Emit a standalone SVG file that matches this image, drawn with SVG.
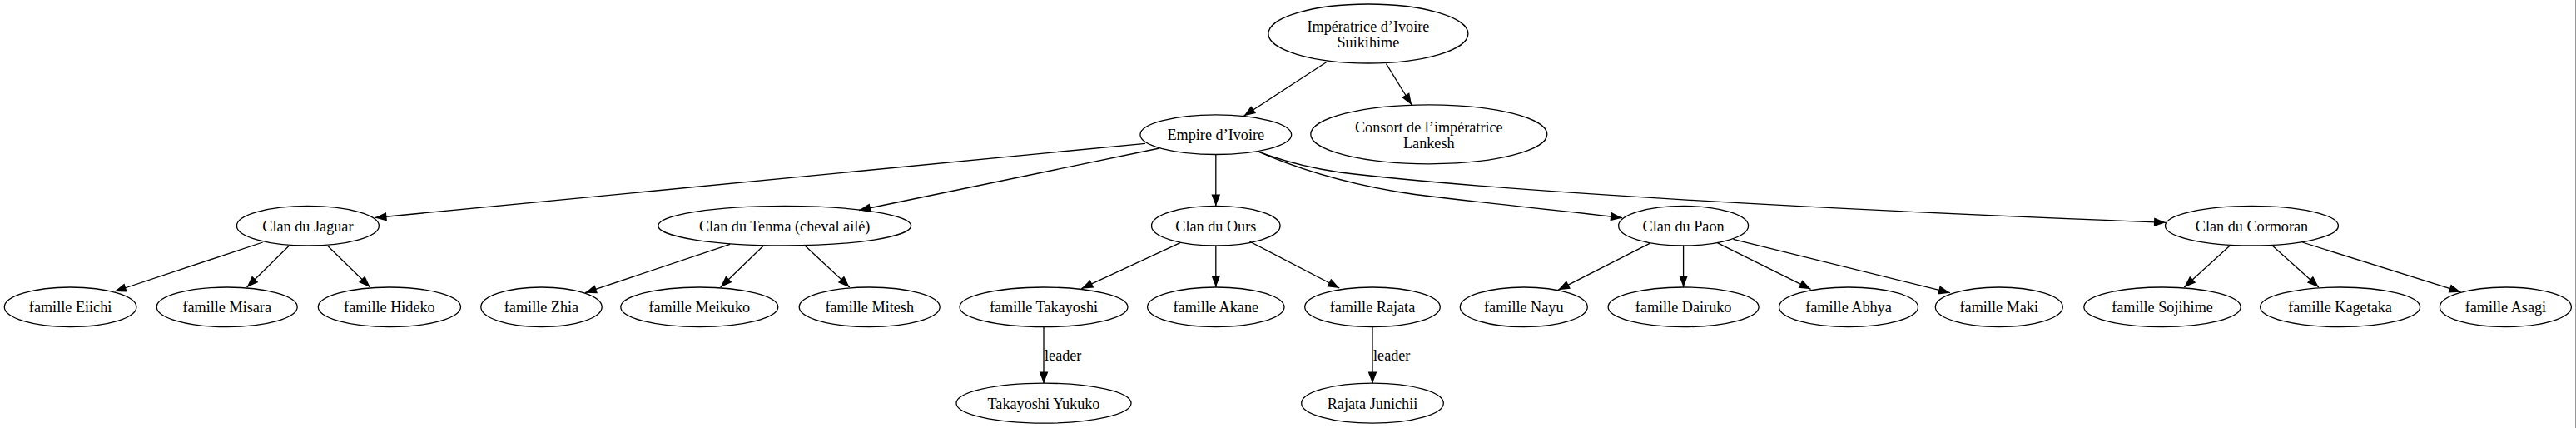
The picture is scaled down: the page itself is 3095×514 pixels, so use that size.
<svg xmlns="http://www.w3.org/2000/svg" width="3095" height="514" viewBox="0 0 3095 514">
<style>
.n ellipse{fill:none;stroke:#000;stroke-width:1.3}
text{font-family:"Liberation Serif","Times New Roman",serif;font-size:18.2px;fill:#000}
.n text{text-anchor:middle}
.e path{fill:none;stroke:#000;stroke-width:1.3;marker-end:url(#arr)}
.lbl{text-anchor:start}
</style>
<defs>
<marker id="arr" markerUnits="userSpaceOnUse" markerWidth="16" markerHeight="12" viewBox="-15 -6 16 12" refX="0" refY="0" orient="auto" overflow="visible">
<path d="M-14,-5.3 L0,0 L-14,5.3 Z" fill="#000"/>
</marker>
</defs>
<rect x="0" y="0" width="3095" height="514" fill="#fff"/>
<line x1="3094.5" y1="0" x2="3094.5" y2="514" stroke="#999" stroke-width="1"/>
<g id="connectors" class="e">
<path d="M1594.7,74 L1494.4,139.3"/>
<path d="M1665.5,76.7 L1696.1,126"/>
<path d="M1376,172.3 L450.5,261.5"/>
<path d="M1393,178 L1032,252.5"/>
<path d="M1460.8,185.5 L1460.8,247.4"/>
<path d="M1511,181.7 C1560,203 1620,222 1700,233.5 C1800,246 1880,253 1949,261.7"/>
<path d="M1511,181.7 C1540,193 1570,201 1610,207 C1800,230 2200,252 2602,267.3"/>
<path d="M315.7,291 L137.8,350"/>
<path d="M347.5,295 L296.6,345"/>
<path d="M393.4,295 L444.7,345"/>
<path d="M877.2,293.3 L703,351.7"/>
<path d="M917.4,295 L865.7,345"/>
<path d="M967.1,295 L1020.7,345"/>
<path d="M1417.9,291.7 L1299.3,346.7"/>
<path d="M1460.8,295 L1460.8,345"/>
<path d="M1501.3,290 L1609.2,346"/>
<path d="M1982,292.3 L1872,348.3"/>
<path d="M2022.6,295 L2022.6,345"/>
<path d="M2063.3,291.7 L2175.6,347.3"/>
<path d="M2082.4,287.3 L2343,351.7"/>
<path d="M2679.2,295 L2624.3,345"/>
<path d="M2730.2,295 L2785.9,345"/>
<path d="M2766.3,291 L2956.5,350.7"/>
<path d="M1254,392.6 L1254,460.4"/>
<path d="M1649,392.6 L1649,460.4"/>
<text class="lbl" x="1255" y="432.5">leader</text>
<text class="lbl" x="1650" y="432.5">leader</text>
</g>
<g id="imperatrice" class="n"><ellipse cx="1643.9" cy="40.5" rx="120" ry="35.5"/><text x="1643.9" y="37.7">Impératrice d’Ivoire</text><text x="1643.9" y="57.3">Suikihime</text></g>
<g id="empire" class="n"><ellipse cx="1460.8" cy="161.7" rx="90.9" ry="23.8"/><text x="1460.8" y="168.3">Empire d’Ivoire</text></g>
<g id="consort" class="n"><ellipse cx="1716.8" cy="161.3" rx="142" ry="35.5"/><text x="1716.8" y="158.7">Consort de l’impératrice</text><text x="1716.8" y="177.7">Lankesh</text></g>
<g id="jaguar" class="n"><ellipse cx="369.9" cy="271.2" rx="85.5" ry="23.8"/><text x="369.9" y="277.8">Clan du Jaguar</text></g>
<g id="tenma" class="n"><ellipse cx="942.7" cy="271.2" rx="152" ry="23.8"/><text x="942.7" y="277.8">Clan du Tenma (cheval ailé)</text></g>
<g id="ours" class="n"><ellipse cx="1460.8" cy="271.2" rx="77.3" ry="23.8"/><text x="1460.8" y="277.8">Clan du Ours</text></g>
<g id="paon" class="n"><ellipse cx="2022.6" cy="271.2" rx="78" ry="23.8"/><text x="2022.6" y="277.8">Clan du Paon</text></g>
<g id="cormoran" class="n"><ellipse cx="2705.5" cy="271.2" rx="104" ry="23.8"/><text x="2705.5" y="277.8">Clan du Cormoran</text></g>
<g id="eiichi" class="n"><ellipse cx="84.6" cy="368.8" rx="79.3" ry="23.8"/><text x="84.6" y="375.4">famille Eiichi</text></g>
<g id="misara" class="n"><ellipse cx="272.7" cy="368.8" rx="84.5" ry="23.8"/><text x="272.7" y="375.4">famille Misara</text></g>
<g id="hideko" class="n"><ellipse cx="467.9" cy="368.8" rx="85.6" ry="23.8"/><text x="467.9" y="375.4">famille Hideko</text></g>
<g id="zhia" class="n"><ellipse cx="650.5" cy="368.8" rx="72.7" ry="23.8"/><text x="650.5" y="375.4">famille Zhia</text></g>
<g id="meikuko" class="n"><ellipse cx="840.3" cy="368.8" rx="94.5" ry="23.8"/><text x="840.3" y="375.4">famille Meikuko</text></g>
<g id="mitesh" class="n"><ellipse cx="1044.7" cy="368.8" rx="84.5" ry="23.8"/><text x="1044.7" y="375.4">famille Mitesh</text></g>
<g id="takayoshi" class="n"><ellipse cx="1254" cy="368.8" rx="101" ry="23.8"/><text x="1254" y="375.4">famille Takayoshi</text></g>
<g id="akane" class="n"><ellipse cx="1460.8" cy="368.8" rx="82.2" ry="23.8"/><text x="1460.8" y="375.4">famille Akane</text></g>
<g id="rajata" class="n"><ellipse cx="1649" cy="368.8" rx="81.3" ry="23.8"/><text x="1649" y="375.4">famille Rajata</text></g>
<g id="nayu" class="n"><ellipse cx="1830.8" cy="368.8" rx="76.5" ry="23.8"/><text x="1830.8" y="375.4">famille Nayu</text></g>
<g id="dairuko" class="n"><ellipse cx="2022.6" cy="368.8" rx="90.5" ry="23.8"/><text x="2022.6" y="375.4">famille Dairuko</text></g>
<g id="abhya" class="n"><ellipse cx="2221" cy="368.8" rx="83.5" ry="23.8"/><text x="2221" y="375.4">famille Abhya</text></g>
<g id="maki" class="n"><ellipse cx="2401.8" cy="368.8" rx="76.5" ry="23.8"/><text x="2401.8" y="375.4">famille Maki</text></g>
<g id="sojihime" class="n"><ellipse cx="2598" cy="368.8" rx="94.2" ry="23.8"/><text x="2598" y="375.4">famille Sojihime</text></g>
<g id="kagetaka" class="n"><ellipse cx="2811.6" cy="368.8" rx="96" ry="23.8"/><text x="2811.6" y="375.4">famille Kagetaka</text></g>
<g id="asagi" class="n"><ellipse cx="3010.4" cy="368.8" rx="79" ry="23.8"/><text x="3010.4" y="375.4">famille Asagi</text></g>
<g id="yukuko" class="n"><ellipse cx="1254" cy="484.2" rx="105" ry="24"/><text x="1254" y="490.8">Takayoshi Yukuko</text></g>
<g id="junichii" class="n"><ellipse cx="1649" cy="484.2" rx="85.3" ry="24"/><text x="1649" y="490.8">Rajata Junichii</text></g>
</svg>
